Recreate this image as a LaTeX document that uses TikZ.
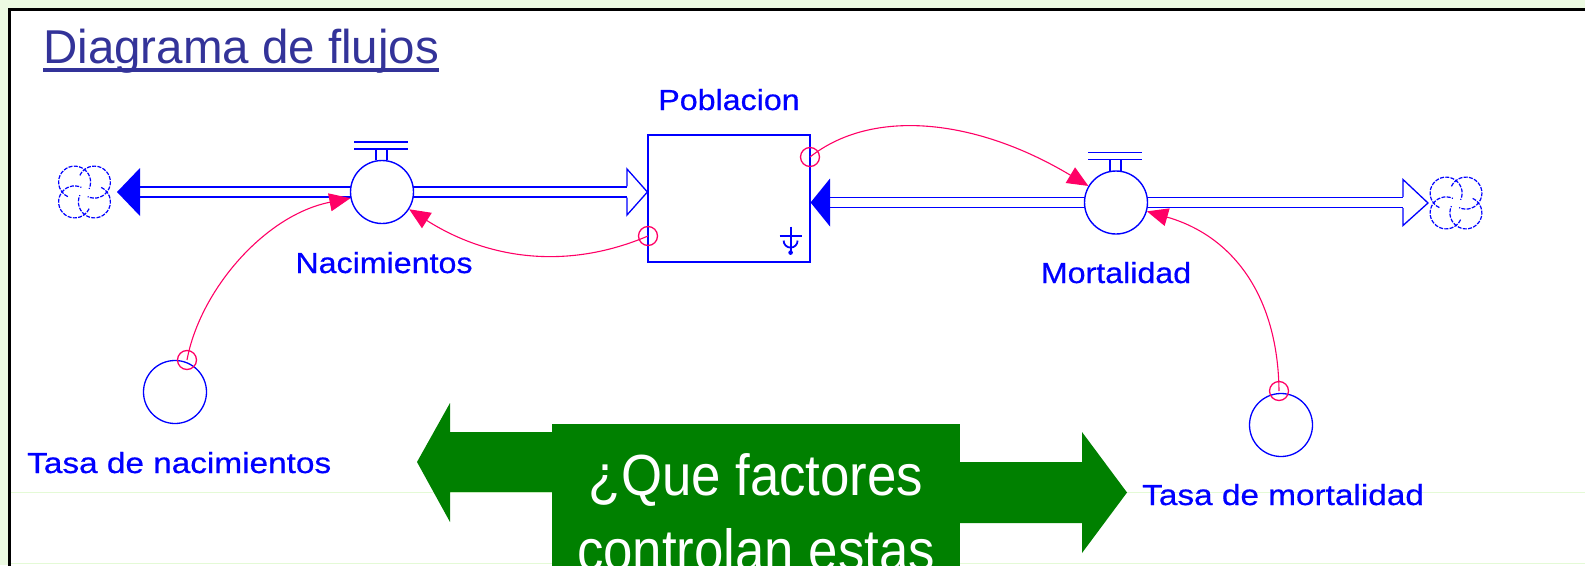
\documentclass[tikz,border=0pt]{standalone}
\usepackage{fontspec}
\setmainfont{Liberation Sans}
\newfontfamily\lblfont[FakeStretch=1.11,FakeBold=0.6]{Liberation Sans}
\newfontfamily\lblfontw[FakeStretch=1.15,FakeBold=0.6]{Liberation Sans}
\newfontfamily\qfont[FakeStretch=0.91]{Liberation Sans}
\usetikzlibrary{arrows.meta,calc}
\definecolor{vblue}{RGB}{0,0,255}
\definecolor{vpink}{RGB}{255,0,102}
\definecolor{ttlblue}{RGB}{51,51,153}
\definecolor{bggreen}{RGB}{236,250,226}
\definecolor{faintgreen}{RGB}{228,250,214}
\definecolor{dkgreen}{RGB}{0,128,0}
\pgfdeclarelayer{bg}
\pgfsetlayers{bg,main}
\newcommand{\vcloud}[1]{%
  \foreach \t in {45,135,225,315}{%
    \draw[cloudline] ($(#1)+(\t:14)$) ++({\t-110}:16) arc[start angle={\t-110}, end angle={\t+160}, radius=16];
  }%
}
\begin{document}
\begin{tikzpicture}[x=1pt,y=-1pt,
  valve/.style={circle, draw=vblue, fill=white, line width=1.4pt, minimum size=63pt, inner sep=0pt},
  auxv/.style={circle, draw=vblue, fill=white, line width=1.3pt, minimum size=63pt, inner sep=0pt},
  stockbox/.style={rectangle, draw=vblue, fill=white, line width=1.2pt, inner sep=0pt},
  hole/.style={circle, draw=vpink, line width=1.3pt, minimum size=19pt, inner sep=0pt},
  pipe/.style={draw=vblue, line width=1.3pt, double=white, double distance=8.6pt},
  infl/.style={draw=vpink, line width=1.1pt, -{Triangle[length=21pt,width=18pt]}},
  lbl/.style={text=vblue, inner sep=0pt, font=\lblfont\fontsize{29}{32}\selectfont},
  lblw/.style={text=vblue, inner sep=0pt, font=\lblfontw\fontsize{29}{32}\selectfont},
  ttl/.style={text=ttlblue, inner sep=0pt, font=\fontsize{47.5}{52}\selectfont},
  qtxt/.style={text=white, inner sep=0pt, font=\qfont\fontsize{58}{70}\selectfont},
  qbox/.style={rectangle, fill=dkgreen, inner sep=0pt},
  cloudline/.style={draw=vblue, line width=1.2pt, dash pattern=on 4pt off 1.3pt},
  handle/.style={draw=vblue, line width=1.3pt},
  faint/.style={draw=faintgreen, line width=1pt}]
\useasboundingbox (0,0) rectangle (1585,565);
\clip (0,0) rectangle (1585,565);

% ---------- frame ----------
\begin{pgfonlayer}{bg}
\fill[bggreen] (0,0) rectangle (1585,565);
\draw[black, line width=3pt, fill=white] (9.5,9.5) rectangle (1700,700);
\draw[faint] (11,492.5) -- (1585,492.5);
\draw[faint] (11,563.5) -- (1585,563.5);
\end{pgfonlayer}

% ---------- title ----------
\node[ttl, anchor=base west] (title) at (43,63) {Diagrama de flujos};
\draw[ttlblue, line width=3.2pt] ($(title.base west)+(0,7)$) -- ($(title.base east)+(0,7)$);

% ---------- main nodes ----------
\node[valve] (nac) at (382,192) {};
\node[valve] (mort) at (1116,202.5) {};
\node[stockbox, minimum width=162pt, minimum height=127pt] (pob) at (729,198.5) {};
\node[auxv] (tn) at (175,392) {};
\node[auxv] (tm) at (1281,425) {};
\coordinate (cl1) at (84.5,192);
\coordinate (cl2) at (1456,203);
\coordinate (ahL) at (140,192);
\coordinate (ahS) at (627,192);
\coordinate (ahR) at (830,202.5);
\coordinate (ahC) at (1403,202.5);

% ---------- pipes ----------
\begin{pgfonlayer}{bg}
\draw[pipe] (nac.center) -- (ahL);
\draw[pipe] (nac.center) -- (ahS);
\draw[pipe] (mort.center) -- (ahR);
\draw[pipe] (mort.center) -- (ahC);
\end{pgfonlayer}
% arrowheads of the pipes
\fill[vblue] ($(ahL)+(0,-24)$) -- ($(ahL)+(0,24)$) -- ($(cl1)+(32.5,0)$) -- cycle;
\draw[vblue, line width=1.3pt, line join=miter] ($(ahS)+(0,-5.6)$) -- ($(ahS)+(0,-23)$) -- (pob.west |- ahS) -- ($(ahS)+(0,23)$) -- ($(ahS)+(0,5.6)$);
\fill[vblue] ($(ahR)+(0,-24)$) -- ($(ahR)+(0,24)$) -- (pob.east |- ahR) -- cycle;
\draw[vblue, line width=1.3pt, line join=miter] ($(ahC)+(0,-5.6)$) -- ($(ahC)+(0,-23)$) -- ($(cl2)+(-28,0)$) -- ($(ahC)+(0,23)$) -- ($(ahC)+(0,5.6)$);

% clouds
\vcloud{cl1}
\vcloud{cl2}

% valve handles
\foreach \v in {nac,mort}{%
  \draw[handle] ($(\v.center)+(-28,-50)$) -- ++(54,0);
  \draw[handle] ($(\v.center)+(-28,-43)$) -- ++(54,0);
  \draw[handle] ($(\v.center)+(-6,-43)$) -- ++(0,11);
  \draw[handle] ($(\v.center)+(5,-43)$) -- ++(0,11);
}

% stock symbol
\draw[vblue, line width=1.8pt] ($(pob.south east)+(-31,-27)$) -- ++(22,0);
\draw[vblue, line width=1.8pt] ($(pob.south east)+(-20,-36)$) -- ++(0,25);
\draw[vblue, line width=1.8pt] ($(pob.south east)+(-27,-22)$) arc[start angle=180, end angle=0, radius=7];
\fill[vblue] ($(pob.south east)+(-20,-10)$) circle[radius=2.3];

% ---------- labels ----------
\node[lbl, anchor=base] (lpob) at (729,110) {Poblacion};
\node[lbl, anchor=base] (lnac) at (384,273) {Nacimientos};
\node[lbl, anchor=base] (lmort) at (1116,283) {Mortalidad};
\node[lblw, anchor=base west] (ltn) at (27,473) {Tasa de nacimientos};
\node[lblw, anchor=base west] (ltm) at (1142,505) {Tasa de mortalidad};

% ---------- influence links ----------
\node[hole] (htn) at (187,360) {};
\node[hole] (htm) at (1279,391) {};
\node[hole] (hpr) at (810,157) {};
\node[hole] (hpl) at (648,236) {};
\draw[infl] (htn.center) .. controls (200,290) and (265,215) .. (nac);
\draw[infl] (hpl.center) .. controls (568,270) and (489,260) .. (nac);
\draw[infl] (hpr.center) .. controls (872,108) and (975,118) .. (mort);
\draw[infl] (htm.center) .. controls (1278,296) and (1233,236) .. (mort);

% ---------- green callout ----------
\node[qbox, minimum width=408pt, minimum height=196pt] (qbox) at (756,522) {};
\fill[dkgreen] (qbox.west |- 0,432) -- (450,432) -- (450,403) -- (417,462) -- (450,522) -- (450,492) -- (qbox.west |- 0,492) -- cycle;
\fill[dkgreen] (qbox.east |- 0,462) -- (1082,462) -- (1082,432) -- (1127,492.5) -- (1082,553) -- (1082,523) -- (qbox.east |- 0,523) -- cycle;
\node[qtxt, anchor=base] (q1) at (756,495) {¿Que factores};
\node[qtxt, anchor=base] (q2) at (756,570) {controlan estas};
\end{tikzpicture}
\end{document}
